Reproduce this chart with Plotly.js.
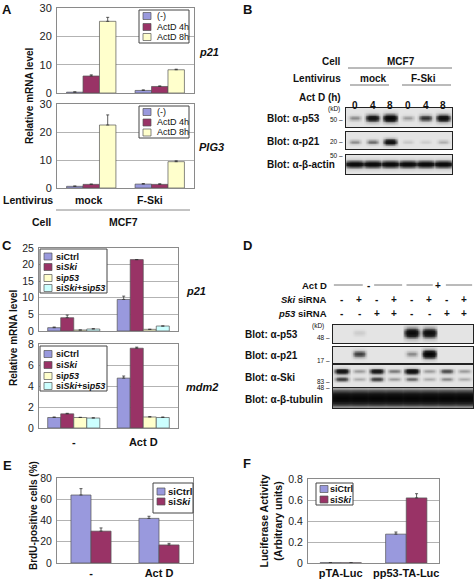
<!DOCTYPE html>
<html><head><meta charset="utf-8">
<script src="https://cdn.plot.ly/plotly-3.0.1.min.js"></script>
<style>html,body{margin:0;padding:0;background:#fff}#chart{width:476px;height:579px}</style>
</head><body><div id="chart"></div>
<script>
// ---------- DATA ----------
const aCategories = ['mock', 'F-Ski'];
const aSeries = ['(-)', 'ActD 4h', 'ActD 8h'];
const aP21 = [[0.3, 0.9], [6.0, 2.3], [25.3, 8.2]];
const aP21Err = [[0.1, 0.2], [0.4, 0.2], [1.4, 0.2]];
const aPig3 = [[0.6, 1.4], [1.3, 1.3], [22.5, 9.4]];
const aPig3Err = [[0.1, 0.2], [0.1, 0.2], [3.6, 0.3]];
const aTicks = [0, 10, 20, 30];

const cCategories = ['-', 'Act D'];
const cSeries = ['siCtrl', 'si<i>Ski</i>', 'si<i>p53</i>', 'si<i>Ski</i>+si<i>p53</i>'];
const cP21 = [[1.0, 9.5], [4.0, 21.5], [0.3, 0.5], [0.6, 1.5]];
const cP21Err = [[0.2, 1.0], [0.8, 0], [0, 0], [0.1, 0]];
const cMdm2 = [[1.0, 4.75], [1.35, 7.6], [1.0, 1.05], [0.95, 1.0]];
const cMdm2Err = [[0.05, 0.2], [0.05, 0.1], [0.02, 0.03], [0.02, 0.05]];
const cP21Ticks = [0, 5, 10, 15, 20, 25];
const cMdm2Ticks = [0, 2, 4, 6, 8];

const eCategories = ['-', 'Act D'];
const eSeries = ['siCtrl', 'si<i>Ski</i>'];
const eBrdU = [[64, 42], [30, 17]];
const eBrdUErr = [[6, 2], [3, 1.5]];
const eTicks = [0, 20, 40, 60, 80];

const fCategories = ['pTA-Luc', 'pp53-TA-Luc'];
const fSeries = ['siCtrl', 'si<i>Ski</i>'];
const fLuc = [[0.003, 0.275], [0.002, 0.62]];
const fLucErr = [[0, 0.02], [0, 0.04]];
const fTicks = [0, 0.2, 0.4, 0.6, 0.8];
const fTickText = ['0', '0.2', '0.4', '0.6', '0.8'];

// Western blots (band intensity per lane, 0..1)
const bActD = ['0', '4', '8', '0', '4', '8'];
const bP53 = [0.35, 0.85, 1.0, 0.3, 0.65, 0.9];
const bP21 = [0.35, 0.45, 0.9, 0.15, 0.12, 0.25];
const bActin = [0.95, 0.95, 0.95, 0.95, 0.95, 0.95];
const bBlots = ['Blot: α-p53', 'Blot: α-p21', 'Blot: α-β-actin'];

const dSki = ['-', '+', '-', '+', '-', '+', '-', '+'];
const dP53si = ['-', '-', '+', '+', '-', '-', '+', '+'];
const dP53 = [0, 0.12, 0, 0, 0.95, 0.9, 0, 0];
const dP21 = [0, 0.6, 0, 0, 0.35, 1.0, 0, 0];
const dSkiUpper = [0.85, 0.3, 0.8, 0.4, 0.9, 0.3, 0.55, 0.3];
const dSkiLower = [0.6, 0.25, 0.6, 0.3, 0.45, 0.25, 0.35, 0.25];
const dTubulin = [1, 1, 1, 1, 1, 1, 1, 1];
const dBlots = ['Blot: α-p53', 'Blot: α-p21', 'Blot: α-Ski', 'Blot: α-β-tubulin'];

// ---------- STYLE ----------
const W = 476, H = 579;
const X = p => p / W, Y = p => 1 - p / H;
const FONT = 'Liberation Sans, Arial, Helvetica, sans-serif';
const COL4 = ['#9999dd', '#993366', '#ffffcc', '#ccffff'];
const COL3 = ['#9999dd', '#993366', '#ffffcc'];

const traces = [];
const annotations = [];
const shapes = [];

function addBars(ax, cats, vals, errs, names, colors, groupW) {
  const n = vals.length, bw = groupW / n;
  vals.forEach((v, i) => {
    traces.push({
      type: 'bar', xaxis: 'x' + ax, yaxis: 'y' + ax,
      x: cats.map((c, k) => k), y: v, name: names[i],
      width: bw, offset: -groupW / 2 + i * bw,
      marker: {color: colors[i], line: {color: '#555', width: 0.7}},
      error_y: {type: 'data', symmetric: false, array: errs[i], arrayminus: v.map(() => 0),
                color: '#333', thickness: 0.8, width: 1.5},
      showlegend: false, hoverinfo: 'skip'
    });
  });
}

function ann(text, x, y, o = {}) {
  annotations.push(Object.assign({
    text, x: X(x), y: Y(y), xref: 'paper', yref: 'paper', showarrow: false,
    xanchor: 'center', yanchor: 'middle',
    font: {family: FONT, size: o.size || 10, color: '#111'}
  }, o.xanchor ? {xanchor: o.xanchor} : {}, o.textangle ? {textangle: o.textangle} : {}));
}
function line(x0, y0, x1, y1, c = '#888', w = 1) {
  shapes.push({type: 'line', xref: 'paper', yref: 'paper', x0: X(x0), x1: X(x1), y0: Y(y0), y1: Y(y1),
               line: {color: c, width: w}});
}
function legendBox(x0, y0, x1, y1, names, colors, rowsY, textX, size, bold) {
  shapes.push({type: 'rect', xref: 'paper', yref: 'paper', x0: X(x0), x1: X(x1), y0: Y(y1), y1: Y(y0),
               fillcolor: '#fff', line: {color: '#444', width: 1}, layer: 'above'});
  names.forEach((nm, i) => {
    const cy = rowsY[i];
    shapes.push({type: 'rect', xref: 'paper', yref: 'paper', x0: X(x0 + 4), x1: X(x0 + 12),
                 y0: Y(cy + 3.5), y1: Y(cy - 3.5), fillcolor: colors[i],
                 line: {color: '#555', width: 0.7}, layer: 'above'});
    annotations.push({text: bold ? '<b>' + nm + '</b>' : nm, x: X(textX), y: Y(cy), xref: 'paper', yref: 'paper',
      showarrow: false, xanchor: 'left', yanchor: 'middle', font: {family: FONT, size, color: '#111'}});
  });
}

// blot band image built from lane intensities
function addBlot(ax, lanesArr, bands) {
  const n = lanesArr.length;
  const xs = [], ys = [], z = [];
  for (let x = -0.5; x <= n - 0.5 + 1e-9; x += 0.04) xs.push(+x.toFixed(3));
  for (let y = 0; y <= 1 + 1e-9; y += 0.04) ys.push(+y.toFixed(3));
  ys.forEach(y => {
    const row = [];
    xs.forEach(x => {
      const lane = Math.min(n - 1, Math.max(0, Math.round(x)));
      let v = 0;
      bands.forEach(b => {
        const s = b.vals[lane];
        const dx = (x - lane) / (b.hw * (0.75 + 0.25 * s));
        const dy = (y - b.yc) / (b.h * (0.45 + 0.55 * s));
        v += s * Math.exp(-Math.pow(Math.abs(dx), 4)) * Math.exp(-dy * dy);
      });
      row.push(Math.min(1, v));
    });
    z.push(row);
  });
  traces.push({type: 'heatmap', xaxis: 'x' + ax, yaxis: 'y' + ax, x: xs, y: ys, z,
    zmin: 0, zmax: 1, zsmooth: 'best', showscale: false, hoverinfo: 'skip',
    colorscale: [[0, '#e4e4e4'], [0.2, '#bdbdbd'], [0.45, '#6a6a6a'], [0.7, '#222'], [1, '#050505']]});
}

// ---------- PANEL A ----------
addBars(1, aCategories, aP21, aP21Err, aSeries, COL3, 0.72);
addBars(2, aCategories, aPig3, aPig3Err, aSeries, COL3, 0.72);
// ---------- PANEL C ----------
addBars(3, cCategories, cP21, cP21Err, cSeries, COL4, 0.75);
addBars(4, cCategories, cMdm2, cMdm2Err, cSeries, COL4, 0.75);
// ---------- PANEL E / F ----------
addBars(5, eCategories, eBrdU, eBrdUErr, eSeries, COL4, 0.59);
addBars(6, fCategories, fLuc, fLucErr, fSeries, COL4, 0.63);

// ---------- BLOTS ----------
addBlot(7, bP53, [{vals: bP53, yc: 0.47, h: 0.22, hw: 0.42}]);
addBlot(8, bP21, [{vals: bP21, yc: 0.42, h: 0.2, hw: 0.4}]);
addBlot(9, bActin, [{vals: bActin, yc: 0.52, h: 0.2, hw: 0.6}]);
addBlot(10, dP53, [{vals: dP53, yc: 0.56, h: 0.3, hw: 0.45}]);
addBlot(11, dP21, [{vals: dP21, yc: 0.56, h: 0.28, hw: 0.42}]);
addBlot(12, dSkiUpper, [{vals: dSkiUpper, yc: 0.72, h: 0.14, hw: 0.45}, {vals: dSkiLower, yc: 0.36, h: 0.13, hw: 0.45}]);
addBlot(13, dTubulin, [{vals: dTubulin, yc: 0.5, h: 0.45, hw: 1.1}]);

// ---------- AXES ----------
const layout = {
  width: W, height: H, margin: {l: 0, r: 0, t: 0, b: 0},
  paper_bgcolor: '#fff', plot_bgcolor: '#fff', barmode: 'overlay', showlegend: false,
  font: {family: FONT, color: '#111'}
};
function barAxes(ax, xd, yd, range, tickvals, ticktext, tsize, xlabels) {
  const xa = {domain: xd, range: [-0.5, 1.5], tickvals: [0, 1], showline: true, mirror: true,
    linecolor: '#8a8a8a', linewidth: 1, showgrid: false, zeroline: false, ticks: '',
    showticklabels: !!xlabels, ticktext: xlabels || undefined, tickmode: 'array',
    tickfont: {family: FONT, size: 11, color: '#111', weight: 'bold'}, anchor: 'y' + ax, fixedrange: true};
  const ya = {domain: yd, range, tickvals, ticktext: ticktext || tickvals.map(String), tickmode: 'array',
    showline: true, mirror: true, linecolor: '#8a8a8a', linewidth: 1, showgrid: true, gridcolor: '#a0a0a0',
    gridwidth: 0.8, zeroline: false, ticks: '', tickfont: {family: FONT, size: tsize, color: '#222'},
    anchor: 'x' + ax, fixedrange: true, ticklabelstandoff: 2};
  layout['xaxis' + (ax === 1 ? '' : ax)] = xa;
  layout['yaxis' + (ax === 1 ? '' : ax)] = ya;
}
barAxes(1, [X(57), X(194)], [Y(93), Y(8)], [0, 30], aTicks, null, 11);
barAxes(2, [X(57), X(194)], [Y(188), Y(104)], [0, 30], aTicks, null, 11);
barAxes(3, [X(39), X(178)], [Y(331), Y(248)], [0, 25], cP21Ticks, null, 10.5);
barAxes(4, [X(39), X(178)], [Y(428), Y(344)], [0, 8], cMdm2Ticks, null, 10.5, cCategories);
barAxes(5, [X(57), X(193)], [Y(563), Y(478)], [0, 80], eTicks, null, 10.5, eCategories);
barAxes(6, [X(308), X(439)], [Y(563), Y(479)], [0, 0.8], fTicks, fTickText, 10.5, fCategories);
layout.xaxis4.ticklabelstandoff = 4;
layout.xaxis5.ticklabelstandoff = 0;
layout.xaxis6.ticklabelstandoff = 0;
layout.yaxis6.title = {text: '<b>Luciferase Activity</b><br><b>(Arbitrary units)</b>',
  font: {family: FONT, size: 10.5, color: '#111'}, standoff: 3};

function blotAxes(ax, xd, yd, n) {
  layout['xaxis' + ax] = {domain: xd, range: [-0.5, n - 0.5], showline: true, mirror: true, linecolor: '#222',
    linewidth: 1, showgrid: false, zeroline: false, showticklabels: false, ticks: '', anchor: 'y' + ax, fixedrange: true};
  layout['yaxis' + ax] = {domain: yd, range: [0, 1], showline: true, mirror: true, linecolor: '#222',
    linewidth: 1, showgrid: false, zeroline: false, showticklabels: false, ticks: '', anchor: 'x' + ax, fixedrange: true};
}
blotAxes(7, [X(346), X(452)], [Y(127), Y(108)], 6);
blotAxes(8, [X(346), X(452)], [Y(149), Y(132)], 6);
blotAxes(9, [X(346), X(452)], [Y(174), Y(155)], 6);
blotAxes(10, [X(333), X(473)], [Y(343), Y(325)], 8);
blotAxes(11, [X(333), X(473)], [Y(363), Y(347)], 8);
blotAxes(12, [X(333), X(473)], [Y(387), Y(365)], 8);
blotAxes(13, [X(333), X(473)], [Y(408), Y(388)], 8);

// ---------- TEXT / LEGENDS ----------
const B = t => '<b>' + t + '</b>';
// panel letters
[['A', 7, 9], ['B', 247, 9], ['C', 7, 245], ['D', 247, 246], ['E', 7, 465], ['F', 247, 463]]
  .forEach(([t, x, y]) => ann(B(t), x, y, {size: 13}));

// Panel A
ann(B('Relative mRNA level'), 29, 96, {size: 10, textangle: -90});
ann(B('<i>p21</i>'), 197, 52, {size: 11, xanchor: 'left'});
ann(B('<i>PIG3</i>'), 197, 147, {size: 11, xanchor: 'left'});
ann(B('Lentivirus'), 28, 200, {size: 10.5});
ann(B(aCategories[0]), 89, 200, {size: 10.5});
ann(B(aCategories[1]), 150, 200, {size: 10.5});
line(56, 210, 190, 210, '#888', 1);
ann(B('Cell'), 41, 222, {size: 10.5});
ann(B('MCF7'), 123, 222, {size: 10.5});
legendBox(139, 10, 189, 43, aSeries, COL3, [16, 27, 37], 155, 9, false);
legendBox(139, 106, 189, 138, aSeries, COL3, [112, 122.5, 132.5], 155, 9, false);

// Panel B
ann(B('Cell'), 343, 61, {size: 10, xanchor: 'right'});
ann(B('MCF7'), 401, 61, {size: 10});
line(348, 68, 452, 68, '#777', 1);
ann(B('Lentivirus'), 343, 78, {size: 10, xanchor: 'right'});
ann(B('mock'), 373, 78, {size: 10});
ann(B('F-Ski'), 423, 78, {size: 10});
line(350, 85, 389, 85, '#777', 1);
line(402, 85, 451, 85, '#777', 1);
ann(B('Act D (h)'), 343, 98, {size: 10, xanchor: 'right'});
bActD.forEach((t, i) => annotations.push({text: B(t), x: i, y: Y(98), xref: 'x7', yref: 'paper',
  showarrow: false, font: {family: FONT, size: 10, color: '#111'}}));
ann(B(bBlots[0]), 265, 118, {size: 10, xanchor: 'left'});
ann(B(bBlots[1]), 265, 141, {size: 10, xanchor: 'left'});
ann(B(bBlots[2]), 265, 164, {size: 10, xanchor: 'left'});
ann('(kD)', 334, 109, {size: 6.5});
ann('50 –', 345, 119, {size: 6.5, xanchor: 'right'});
ann('20 –', 345, 141, {size: 6.5, xanchor: 'right'});
ann('50 –', 345, 155, {size: 6.5, xanchor: 'right'});

// Panel C
ann(B('Relative mRNA level'), 13, 338, {size: 10, textangle: -90});
ann(B('<i>p21</i>'), 184, 291, {size: 11, xanchor: 'left'});
ann(B('<i>mdm2</i>'), 184, 387, {size: 11, xanchor: 'left'});
legendBox(40, 249, 107, 293, cSeries, COL4, [256.5, 267, 278, 288], 54, 9, true);
legendBox(40, 346, 107, 391, cSeries, COL4, [354, 365, 376, 386], 54, 9, true);

// Panel D
ann(B('Act D'), 329, 285, {size: 9.5, xanchor: 'right'});
ann(B('<i>Ski</i> siRNA'), 329, 299, {size: 9.5, xanchor: 'right'});
ann(B('<i>p53</i> siRNA'), 329, 313, {size: 9.5, xanchor: 'right'});
[[-0.45, 1.2], [1.85, 3.45], [3.7, 5.2], [5.95, 7.45]].forEach(([a, b]) =>
  shapes.push({type: 'line', xref: 'x10', yref: 'paper', x0: a, x1: b, y0: Y(285), y1: Y(285), line: {color: '#777', width: 1}}));
[['-', 1.5], ['+', 5.5]].forEach(([t, x]) => annotations.push({text: B(t), x, y: Y(285), xref: 'x10', yref: 'paper',
  showarrow: false, font: {family: FONT, size: 10, color: '#111'}}));
dSki.forEach((t, i) => annotations.push({text: B(t), x: i, y: Y(299), xref: 'x10', yref: 'paper',
  showarrow: false, font: {family: FONT, size: 10, color: '#111'}}));
dP53si.forEach((t, i) => annotations.push({text: B(t), x: i, y: Y(313), xref: 'x10', yref: 'paper',
  showarrow: false, font: {family: FONT, size: 10, color: '#111'}}));
ann(B(dBlots[0]), 243, 334, {size: 10, xanchor: 'left'});
ann(B(dBlots[1]), 243, 355, {size: 10, xanchor: 'left'});
ann(B(dBlots[2]), 243, 377, {size: 10, xanchor: 'left'});
ann(B(dBlots[3]), 243, 399, {size: 10, xanchor: 'left'});
ann('(kD)', 318, 326, {size: 6.5});
ann('48 –', 332, 337, {size: 6.5, xanchor: 'right'});
ann('17 –', 332, 360, {size: 6.5, xanchor: 'right'});
ann('83 –', 332, 381, {size: 6.5, xanchor: 'right'});
ann('48 –', 332, 387, {size: 6.5, xanchor: 'right'});

// Panel E
ann(B('BrdU-positive cells (%)'), 33, 516, {size: 10, textangle: -90});
legendBox(153, 483, 193, 513, eSeries, COL4, [491.5, 501.5], 166, 9.5, true);

// Panel F
legendBox(316, 483, 353, 505, fSeries, COL4, [489, 499.5], 328, 9, true);

layout.annotations = annotations;
layout.shapes = shapes;
Plotly.newPlot('chart', traces, layout, {staticPlot: true, displayModeBar: false});
</script></body></html>
